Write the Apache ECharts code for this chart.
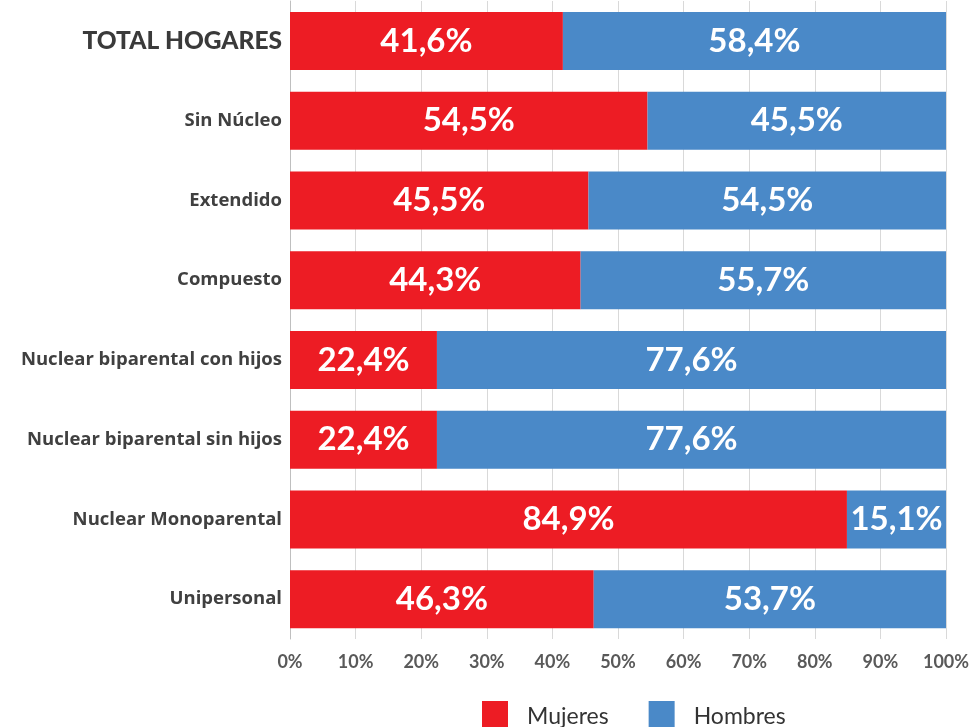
<!DOCTYPE html>
<html><head><meta charset="utf-8">
<script src="https://cdn.jsdelivr.net/npm/echarts@6/dist/echarts.min.js"></script>
<style>html,body{margin:0;padding:0;background:#fff}#c{width:978px;height:727px}</style>
</head><body><div id="c"></div>
<script>
const categories = ["TOTAL HOGARES","Sin Núcleo","Extendido","Compuesto","Nuclear biparental con hijos","Nuclear biparental sin hijos","Nuclear Monoparental","Unipersonal"];
const mujeres = [41.6,54.5,45.5,44.3,22.4,22.4,84.9,46.3];
const hombres = [58.4,45.5,54.5,55.7,77.6,77.6,15.1,53.7];
const xTicks = [0,10,20,30,40,50,60,70,80,90,100];

const chart = echarts.init(document.getElementById('c'));
const lbl = {show:true,position:'inside',color:'#fff',fontFamily:'Lato',fontWeight:'bold',fontSize:33,
  formatter:p=>p.value.toFixed(1).replace('.',',')+'%'};
chart.setOption({
  animation:false,
  grid:{left:290,right:32,top:1,height:638,containLabel:false},
  legend:{left:477,top:696,itemWidth:26,itemHeight:32,itemGap:40,icon:'rect',
    textStyle:{fontFamily:'Lato',fontSize:23,color:'#333',padding:[0,0,0,14]},data:['Mujeres','Hombres']},
  xAxis:{type:'value',min:0,max:100,interval:10,
    axisLabel:{formatter:'{value}%',fontFamily:'Lato',fontWeight:'bold',fontSize:18,color:'#595959',margin:14,
      customValues:xTicks},
    splitLine:{show:true,lineStyle:{color:'#d9d9d9'}},axisLine:{show:false},axisTick:{show:false}},
  yAxis:{type:'category',data:categories,inverse:true,
    axisLine:{show:true,lineStyle:{color:'#bfbfbf'}},axisTick:{show:false},
    axisLabel:{margin:8,fontFamily:'Open Sans',fontWeight:'bold',fontSize:18.5,color:'#404040',
      formatter:v=>v==='TOTAL HOGARES'?'{t|'+v+'}':v,
      rich:{t:{fontFamily:'Lato',fontWeight:900,fontSize:24.5,color:'#3a3a3a'}}}},
  series:[
    {name:'Mujeres',type:'bar',stack:'s',data:mujeres,barWidth:58,itemStyle:{color:'#ED1C24'},label:lbl},
    {name:'Hombres',type:'bar',stack:'s',data:hombres,barWidth:58,itemStyle:{color:'#4A89C8'},label:lbl}
  ]
});
</script></body></html>
